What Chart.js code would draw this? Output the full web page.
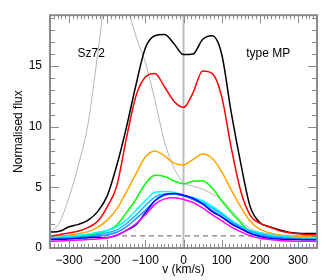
<!DOCTYPE html>
<html>
<head>
<meta charset="utf-8">
<script src="https://cdn.jsdelivr.net/npm/chart.js@4"></script>
<style>
  html, body { margin: 0; padding: 0; background: #fff; }
  canvas { display: block; }
</style>
</head>
<body>
<canvas id="fluxChart" width="327" height="280"></canvas>
<script>
// velocity grid (km/s)
const velocity = [-350, -325, -300, -275, -250, -225, -200, -175, -150, -125, -100, -75, -50, -25, 0,
    25, 50, 75, 100, 125, 150, 175, 200, 225, 250, 275, 300, 325, 350];

// normalised flux, one profile per epoch
const fluxBlack = [1.32, 1.38, 1.75, 1.95, 2.3, 3.0, 4.3, 6.8, 9.9, 13.4, 16.5, 17.5, 17.6, 16.85, 15.95,
    16.0, 17.2, 17.5, 16.0, 11.2, 7.0, 3.4, 2.1, 1.75, 1.5, 1.3, 1.22, 1.2, 1.2];
const fluxRed = [0.96, 1.1, 1.24, 1.4, 1.7, 2.2, 3.4, 5.1, 9.0, 12.5, 14.1, 14.4, 13.3, 12.1, 11.6,
    12.8, 14.6, 14.4, 12.5, 8.3, 4.7, 2.7, 2.05, 1.75, 1.45, 1.28, 1.17, 1.1, 1.08];
const fluxOrange = [0.83, 0.95, 1.05, 1.18, 1.35, 1.7, 2.3, 3.2, 4.6, 6.1, 7.5, 8.0, 7.6, 7.0, 6.85,
    7.3, 7.75, 7.4, 6.3, 4.8, 3.4, 2.2, 1.55, 1.25, 1.1, 1.0, 0.97, 0.95, 0.95];
const fluxGreen = [0.83, 0.85, 0.9, 1.0, 1.1, 1.2, 1.45, 1.9, 2.9, 4.0, 5.3, 6.0, 5.9, 5.55, 5.3,
    5.5, 5.55, 4.95, 3.9, 2.95, 2.1, 1.3, 1.05, 0.95, 0.9, 0.85, 0.83, 0.8, 0.8];
const fluxCyan = [0.85, 0.88, 0.95, 1.05, 1.15, 1.3, 1.45, 1.75, 2.3, 3.1, 3.9, 4.6, 4.65, 4.6, 4.35,
    4.15, 3.9, 3.45, 2.9, 2.3, 1.8, 1.45, 1.25, 1.1, 1.0, 0.9, 0.85, 0.8, 0.78];
const fluxSky = [0.78, 0.8, 0.85, 0.92, 1.0, 1.1, 1.25, 1.5, 2.0, 2.7, 3.5, 4.2, 4.45, 4.45, 4.3,
    4.05, 3.75, 3.3, 2.8, 2.2, 1.75, 1.4, 1.15, 1.0, 0.9, 0.82, 0.78, 0.75, 0.74];
const fluxDodger = [0.74, 0.76, 0.8, 0.85, 0.92, 1.0, 1.1, 1.3, 1.75, 2.4, 3.1, 3.9, 4.35, 4.45, 4.3,
    4.0, 3.6, 3.1, 2.6, 2.05, 1.6, 1.25, 1.05, 0.9, 0.82, 0.76, 0.72, 0.7, 0.7];
const fluxBlue = [0.7, 0.72, 0.75, 0.8, 0.85, 0.88, 0.85, 1.05, 1.45, 1.9, 2.9, 3.9, 4.4, 4.5, 4.35,
    4.1, 3.65, 3.0, 2.55, 2.0, 1.6, 1.2, 0.95, 0.8, 0.75, 0.7, 0.7, 0.68, 0.68];
const fluxMagenta = [0.55, 0.58, 0.62, 0.65, 0.7, 0.75, 0.85, 1.05, 1.45, 2.0, 2.75, 3.6, 4.05, 4.15, 4.0,
    3.75, 3.3, 2.75, 2.25, 1.75, 1.35, 1.0, 0.8, 0.7, 0.62, 0.58, 0.55, 0.55, 0.55];
const fluxGrey = [1.3, 2.1, 4.2, 6.9, 10.3, 16.0, 22.0, 25.0, 20.5, 17.5, 15.3, 12.2, 8.8, 6.6, 5.4,
    5.1, 4.85, 4.45, 4.0, 3.15, 2.3, 1.6, 1.3, 1.15, 1.05, 1.0, 0.98, 0.95, 0.95];

const continuumLevel = 1;
const xTicks = [-300, -200, -100, 0, 100, 200, 300];
const yTicks = [0, 5, 10, 15];
const xRange = [-350, 350];
const yRange = [0, 19.2];

const FONT = { family: '"Liberation Sans", Arial, Helvetica, sans-serif', size: 12 };

function series(values) {
    return velocity.map((v, i) => ({ x: v, y: values[i] }));
}

function profile(values, color, width) {
    return {
        data: series(values),
        borderColor: color,
        borderWidth: width || 1.5,
        pointRadius: 0,
        cubicInterpolationMode: 'monotone',
        fill: false
    };
}

// frame, inward ticks on all four sides and the two labels
const framePlugin = {
    id: 'frame',
    afterDatasetsDraw(chart) {
        const { ctx, chartArea: a, scales: { x, y } } = chart;
        ctx.save();
        ctx.strokeStyle = '#8a8a8a';
        ctx.lineWidth = 1;
        ctx.beginPath();
        for (let v = xRange[0]; v <= xRange[1]; v += 10) {
            const px = Math.round(x.getPixelForValue(v)) + 0.5;
            const len = v % 100 === 0 ? 8 : 4;
            ctx.moveTo(px, a.bottom); ctx.lineTo(px, a.bottom - len);
            ctx.moveTo(px, a.top); ctx.lineTo(px, a.top + len);
        }
        for (let v = 0; v <= yRange[1]; v += 1) {
            const py = Math.round(y.getPixelForValue(v)) + 0.5;
            const len = v % 5 === 0 ? 9 : 5;
            ctx.moveTo(a.left, py); ctx.lineTo(a.left + len, py);
            ctx.moveTo(a.right, py); ctx.lineTo(a.right - len, py);
        }
        ctx.stroke();
        ctx.lineWidth = 2;
        ctx.strokeRect(a.left, a.top, a.right - a.left, a.bottom - a.top);

        ctx.fillStyle = '#000';
        ctx.font = `${FONT.size}px ${FONT.family}`;
        ctx.textBaseline = 'middle';
        ctx.textAlign = 'center';
        ctx.fillText('Sz72', x.getPixelForValue(-242), y.getPixelForValue(16));
        ctx.fillText('type MP', x.getPixelForValue(222), y.getPixelForValue(16));
        ctx.restore();
    }
};

const ctx = document.getElementById('fluxChart').getContext('2d');
new Chart(ctx, {
    type: 'line',
    data: {
        datasets: [
            profile(fluxMagenta, '#ff00ff'),
            profile(fluxBlue, '#0000ff'),
            profile(fluxDodger, '#2a8cff'),
            profile(fluxSky, '#00bfff'),
            profile(fluxCyan, '#00ffff'),
            profile(fluxGreen, '#00ff00'),
            profile(fluxOrange, '#ffa500'),
            profile(fluxRed, '#ff0000'),
            profile(fluxBlack, '#000000'),
            profile(fluxGrey, '#b4b4b4', 1),
            {
                data: xRange.map(v => ({ x: v, y: continuumLevel })),
                borderColor: '#606060',
                borderWidth: 1,
                borderDash: [5, 4],
                pointRadius: 0
            },
            {
                data: yRange.map(f => ({ x: 0, y: f })),
                borderColor: '#bdbdbd',
                borderWidth: 2,
                pointRadius: 0
            }
        ]
    },
    options: {
        responsive: false,
        animation: false,
        devicePixelRatio: 1,
        layout: { padding: { top: 13, right: 10, left: 0, bottom: 0 } },
        plugins: {
            legend: { display: false },
            tooltip: { enabled: false }
        },
        scales: {
            x: {
                type: 'linear',
                min: xRange[0],
                max: xRange[1],
                afterBuildTicks: (s) => { s.ticks = xTicks.map(value => ({ value })); },
                afterFit: (s) => { s.height = 32; },
                grid: { display: false, drawTicks: false },
                border: { display: false },
                ticks: {
                    font: FONT,
                    color: '#000',
                    padding: 5,
                    maxRotation: 0,
                    autoSkip: false,
                    callback: (val) => String(val).replace('-', '\u2212')
                },
                title: {
                    display: true,
                    text: 'v (km/s)',
                    font: FONT,
                    color: '#000',
                    padding: { top: 0, bottom: 3 }
                }
            },
            y: {
                type: 'linear',
                min: yRange[0],
                max: yRange[1],
                afterBuildTicks: (s) => { s.ticks = yTicks.map(value => ({ value })); },
                afterFit: (s) => { s.width = 50; },
                grid: { display: false, drawTicks: false },
                border: { display: false },
                ticks: {
                    font: FONT,
                    color: '#000',
                    padding: 8
                },
                title: {
                    display: true,
                    text: 'Normalised flux',
                    font: FONT,
                    color: '#000',
                    padding: { top: 11, bottom: 0 }
                }
            }
        }
    },
    plugins: [framePlugin]
});
</script>
</body>
</html>
